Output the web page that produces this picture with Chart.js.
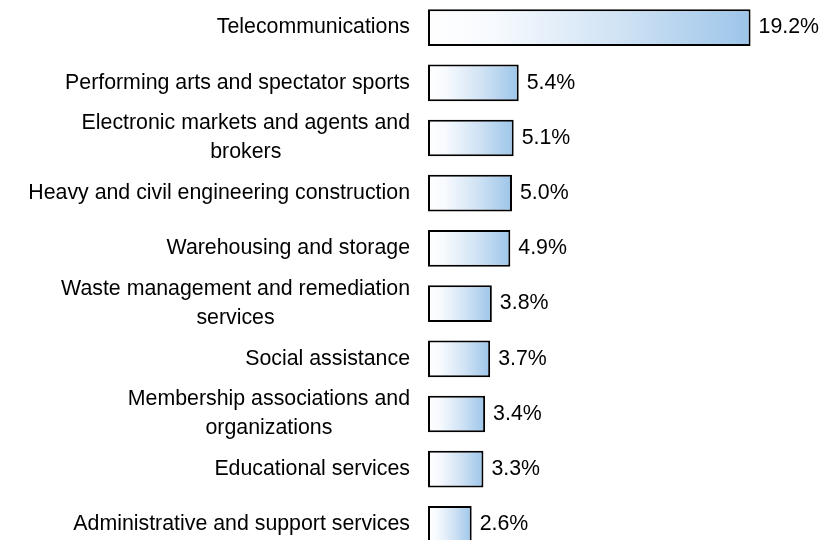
<!DOCTYPE html>
<html>
<head>
<meta charset="utf-8">
<script src="https://cdn.jsdelivr.net/npm/chart.js@4/dist/chart.umd.min.js"></script>
<style>
  html, body { margin: 0; padding: 0; background: #fff; overflow: hidden; }
  #wrap { width: 824px; height: 540px; overflow: hidden; }
</style>
</head>
<body>
<div id="wrap"><canvas id="chart" width="824" height="552"></canvas></div>
<script>
// Categorías (las largas partidas en dos líneas)
const categories = [
    'Telecommunications',
    'Performing arts and spectator sports',
    ['Electronic markets and agents and', 'brokers'],
    'Heavy and civil engineering construction',
    'Warehousing and storage',
    ['Waste management and remediation', 'services'],
    'Social assistance',
    ['Membership associations and', 'organizations'],
    'Educational services',
    'Administrative and support services'
];
const shares = [19.2, 5.4, 5.1, 5.0, 4.9, 3.8, 3.7, 3.4, 3.3, 2.6];

const FONT = '21.33px "Liberation Sans", Arial, sans-serif';
const TEXT_COLOR = '#000';

// Degradado blanco -> azul por barra
function barGradient(context) {
    const chart = context.chart;
    if (!chart.chartArea || context.type !== 'data') return '#9fc7ea';
    const x0 = chart.scales.x.getPixelForValue(0);
    const x1 = chart.scales.x.getPixelForValue(context.raw);
    const g = chart.ctx.createLinearGradient(x0, 0, x1, 0);
    g.addColorStop(0, '#ffffff');
    g.addColorStop(0.2, '#f7fafe');
    g.addColorStop(0.6, '#cfe2f4');
    g.addColorStop(1, '#9cc5e9');
    return g;
}

// Etiquetas de categoría y valores
const labelsPlugin = {
    id: 'labelsPlugin',
    afterDatasetsDraw(chart) {
        const ctx = chart.ctx;
        const yScale = chart.scales.y;
        const right = chart.chartArea.left - 18;
        const lineH = 29;
        ctx.save();
        ctx.font = FONT;
        ctx.fillStyle = TEXT_COLOR;
        ctx.textBaseline = 'middle';

        categories.forEach((cat, i) => {
            const lines = Array.isArray(cat) ? cat : [cat];
            const y = yScale.getPixelForTick(i);
            const w = Math.max(...lines.map(l => ctx.measureText(l).width));
            const cx = right - w / 2;
            ctx.textAlign = 'center';
            lines.forEach((l, k) => {
                const ly = y + (k - (lines.length - 1) / 2) * lineH;
                ctx.fillText(l, cx, ly);
            });
        });

        const meta = chart.getDatasetMeta(0);
        ctx.textAlign = 'left';
        meta.data.forEach((bar, i) => {
            ctx.fillText(shares[i].toFixed(1) + '%', bar.x + 8, bar.y);
        });
        ctx.restore();
    }
};

new Chart(document.getElementById('chart'), {
    type: 'bar',
    data: {
        labels: categories,
        datasets: [{
            data: shares,
            backgroundColor: barGradient,
            borderColor: '#000',
            borderWidth: 2,
            borderSkipped: false,
            barPercentage: 0.665,
            categoryPercentage: 1
        }]
    },
    options: {
        indexAxis: 'y',
        responsive: false,
        animation: false,
        devicePixelRatio: 1,
        layout: { padding: { left: 428, right: 60, top: 0, bottom: 0 } },
        scales: {
            x: { display: false, min: 0, max: 20 },
            y: { display: false }
        },
        plugins: {
            legend: { display: false },
            tooltip: { enabled: false }
        }
    },
    plugins: [labelsPlugin]
});
</script>
</body>
</html>
